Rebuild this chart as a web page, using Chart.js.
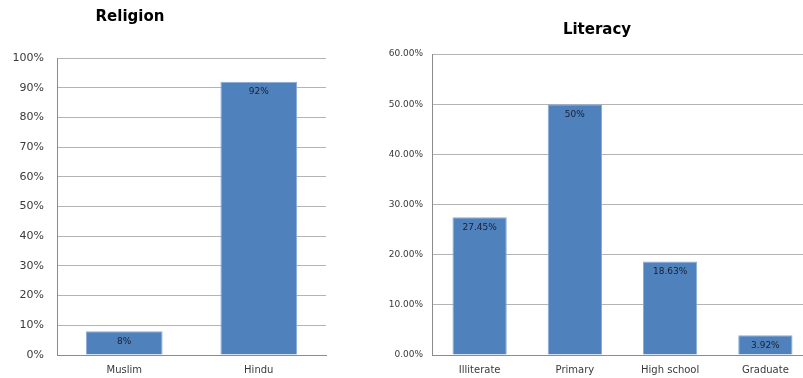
<!DOCTYPE html>
<html>
<head>
<meta charset="utf-8">
<script src="https://cdn.jsdelivr.net/npm/chart.js@4"></script>
<style>
  html, body { margin: 0; padding: 0; background: #fff; }
  body { width: 803px; height: 378px; overflow: hidden; position: relative; }
  .box { position: absolute; top: 0; height: 378px; }
  #religionBox { left: 0; width: 360px; }
  #literacyBox { left: 360px; width: 460px; }
</style>
</head>
<body>
<div class="box" id="religionBox"><canvas id="religion"></canvas></div>
<div class="box" id="literacyBox"><canvas id="literacy"></canvas></div>
<script>
// Religion breakdown (percent of respondents)
const religionCategories = ['Muslim', 'Hindu'];
const religionValues = [8, 92];
const religionTicks = [0, 10, 20, 30, 40, 50, 60, 70, 80, 90, 100];

// Literacy breakdown (percent of respondents)
const literacyCategories = ['Illiterate', 'Primary', 'High school', 'Graduate'];
const literacyValues = [27.45, 50, 18.63, 3.92];
const literacyTicks = [0, 10, 20, 30, 40, 50, 60];

const FONT = "'DejaVu Sans', Verdana, sans-serif";
const BAR_COLOR = '#4F81BD';
const BAR_EDGE = '#8eaad4';
const GRID_COLOR = '#b4b4b4';
const AXIS_COLOR = '#8c8c8c';
const TICK_COLOR = '#3a3a3a';

// Value label drawn inside the top of each bar
const barValueLabels = {
  id: 'barValueLabels',
  afterDatasetsDraw(chart) {
    const ctx = chart.ctx;
    const meta = chart.getDatasetMeta(0);
    const values = chart.data.datasets[0].data;
    ctx.save();
    ctx.font = '9px ' + FONT;
    ctx.fillStyle = '#18202e';
    ctx.textAlign = 'center';
    ctx.textBaseline = 'middle';
    meta.data.forEach((bar, i) => {
      ctx.fillText(values[i] + '%', bar.x, bar.y + 10);
    });
    ctx.restore();
  }
};

// Bold chart heading placed at a fixed spot on the canvas
const heading = {
  id: 'heading',
  afterDraw(chart, args, opts) {
    const ctx = chart.ctx;
    ctx.save();
    ctx.font = 'bold 15px ' + FONT;
    ctx.fillStyle = '#000';
    ctx.textAlign = 'center';
    ctx.textBaseline = 'middle';
    ctx.fillText(opts.text, opts.x, opts.y);
    ctx.restore();
  }
};

function makeChart(id, cats, vals, ticks, cfg) {
  return new Chart(document.getElementById(id), {
    type: 'bar',
    data: {
      labels: cats,
      datasets: [{
        data: vals,
        backgroundColor: BAR_COLOR,
        borderColor: BAR_EDGE,
        borderWidth: { top: 1, left: 1, right: 1, bottom: 0 },
        categoryPercentage: 1,
        barPercentage: 0.57
      }]
    },
    options: {
      responsive: true,
      maintainAspectRatio: false,
      animation: false,
      layout: { padding: cfg.padding },
      plugins: {
        legend: { display: false },
        tooltip: { enabled: false },
        heading: cfg.heading
      },
      scales: {
        x: {
          grid: { display: false, drawTicks: false },
          border: { display: true, color: AXIS_COLOR, width: 1 },
          ticks: { color: TICK_COLOR, font: { family: FONT, size: 10 }, padding: 9, maxRotation: 0 },
          afterFit(s) { s.height = 23; }
        },
        y: {
          min: ticks[0],
          max: ticks[ticks.length - 1],
          afterBuildTicks(s) { s.ticks = ticks.map(v => ({ value: v })); },
          grid: { color: GRID_COLOR, lineWidth: 1, drawTicks: false },
          border: { display: true, color: AXIS_COLOR, width: 1 },
          ticks: {
            color: TICK_COLOR,
            font: { family: FONT, size: cfg.yFont },
            padding: cfg.yPad,
            callback: cfg.fmt
          },
          afterFit(s) { s.width = cfg.yWidth; }
        }
      }
    },
    plugins: [barValueLabels, heading]
  });
}

makeChart('religion', religionCategories, religionValues, religionTicks, {
  padding: { top: 58, right: 34, left: 0, bottom: 0 },
  heading: { text: 'Religion', x: 130, y: 17 },
  yFont: 11, yPad: 13, yWidth: 57,
  fmt: v => v + '%'
});

makeChart('literacy', literacyCategories, literacyValues, literacyTicks, {
  padding: { top: 54, right: 7, left: 0, bottom: 0 },
  heading: { text: 'Literacy', x: 237, y: 30 },
  yFont: 9, yPad: 9, yWidth: 72,
  fmt: v => v.toFixed(2) + '%'
});
</script>
</body>
</html>
